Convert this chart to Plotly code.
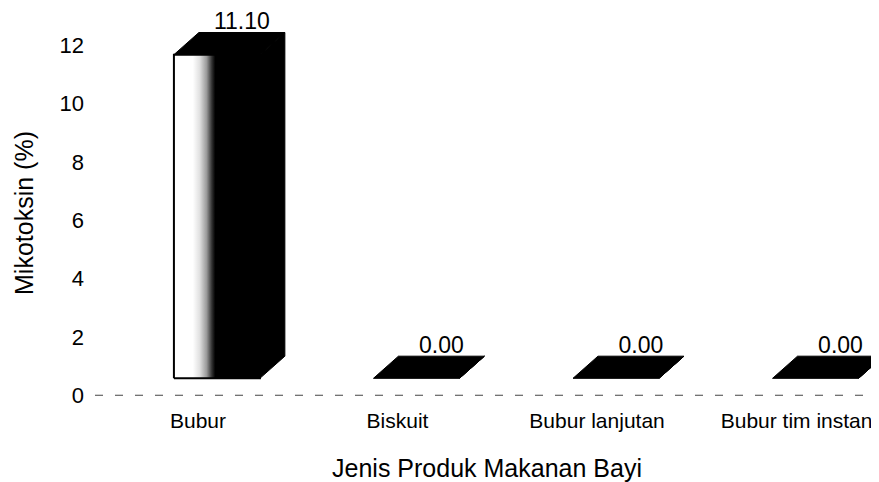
import plotly.graph_objects as go

# ---- data ----
categories = ["Bubur", "Biskuit", "Bubur lanjutan", "Bubur tim instan"]
values = [11.10, 0.00, 0.00, 0.00]
y_tickvals = [0, 2, 4, 6, 8, 10, 12]

# ---- pseudo-3D styling (in axis units) ----
XOFF = 0.095   # bar front centre relative to category tick
HW = 0.2155    # half width of the front face
DX = 0.125     # depth offset along x
DY = 0.76      # depth offset along y
BASE = 0.58    # front floor level
LABEL_PAD = 0.31  # gap between top face and value label

FONT = "Liberation Sans, Arial, sans-serif"

fig = go.Figure()

lab_x, lab_y, lab_t = [], [], []
for i, v in enumerate(values):
    xc = i + XOFF
    x0, x1 = xc - HW, xc + HW
    y0, y1 = BASE, BASE + v
    # side face
    fig.add_trace(go.Scatter(
        x=[x1, x1 + DX, x1 + DX, x1, x1],
        y=[y0, y0 + DY, y1 + DY, y1, y0],
        mode="lines", fill="toself", fillcolor="black",
        line=dict(color="black", width=1), hoverinfo="skip"))
    # top face
    fig.add_trace(go.Scatter(
        x=[x0, x1, x1 + DX, x0 + DX, x0],
        y=[y1, y1, y1 + DY, y1 + DY, y1],
        mode="lines", fill="toself", fillcolor="black",
        line=dict(color="black", width=1), hoverinfo="skip"))
    # front face (white-to-black gradient)
    if v > 0:
        fig.add_trace(go.Scatter(
            x=[x0, x1, x1, x0, x0],
            y=[y0, y0, y1, y1, y0],
            mode="lines", fill="toself",
            fillgradient=dict(type="horizontal",
                              colorscale=[[0, "white"], [0.22, "white"],
                                          [0.3, "#e0e0e0"], [0.38, "#9a9a9a"],
                                          [0.44, "#333333"], [0.48, "black"],
                                          [1, "black"]]),
            line=dict(color="black", width=2), hoverinfo="skip"))
    lab_x.append(xc + DX)
    lab_y.append(y1 + DY + LABEL_PAD)
    lab_t.append(f"{v:.2f}")

fig.add_trace(go.Scatter(
    x=lab_x, y=lab_y, text=lab_t, mode="text",
    textposition="middle center",
    textfont=dict(family=FONT, size=23, color="black"),
    cliponaxis=False, hoverinfo="skip"))

fig.add_hline(y=0, line=dict(color="#444444", width=1.2, dash="8px,12px"))

fig.update_layout(
    width=871, height=474,
    margin=dict(l=87, r=0, t=14, b=78),
    paper_bgcolor="white", plot_bgcolor="white",
    showlegend=False,
    font=dict(family=FONT, color="black"),
    xaxis=dict(
        range=[-0.516, 3.413],
        tickvals=list(range(len(categories))),
        ticktext=categories,
        tickfont=dict(size=21, family=FONT),
        showgrid=False, zeroline=False, showline=False, ticks="",
        ticklabelstandoff=2,
        title=dict(text="Jenis Produk Makanan Bayi",
                   font=dict(size=25, family=FONT), standoff=30),
        fixedrange=True,
    ),
    yaxis=dict(
        range=[-0.3, 12.8],
        tickvals=y_tickvals,
        tickfont=dict(size=22, family=FONT),
        showgrid=False, zeroline=False, showline=False, ticks="",
        ticklabelstandoff=10,
        title=dict(text="Mikotoksin (%)",
                   font=dict(size=25, family=FONT), standoff=18),
        fixedrange=True,
    ),
)

fig.write_html("out.html")
